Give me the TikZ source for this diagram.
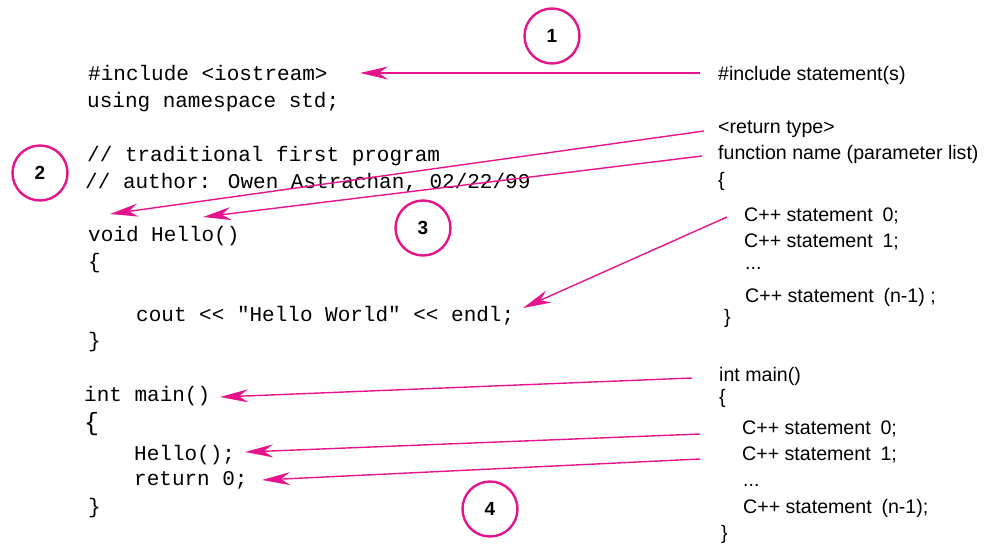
\documentclass[tikz,border=0pt]{standalone}
\usepackage{fontspec}
\setmainfont{Liberation Sans}
\newfontfamily\codefont{Liberation Mono}
\usetikzlibrary{arrows.meta}
\definecolor{mag}{RGB}{230,20,140}
\tikzset{
  code/.style={anchor=base west, inner sep=0pt, font=\codefont\fontsize{21}{21}\selectfont},
  lbl/.style={anchor=base west, inner sep=0pt, font=\fontsize{19.6}{20}\selectfont},
  num/.style={circle, draw=mag, line width=2.4pt, minimum size=55pt, inner sep=0pt, font=\bfseries\fontsize{19}{19}\selectfont},
  arr/.style={draw=mag, line width=1.4pt, -{Stealth[length=28pt,width=13pt,inset=9pt]}}
}
\begin{document}
\begin{tikzpicture}[x=1pt,y=-1pt]
\useasboundingbox (0,0) rectangle (989,544);
% code
\node[code] (c1) at (88,80) {\#include <iostream>};
\node[code] (c2) at (87,107) {using namespace std;};
\node[code] (c3) at (87,161) {// traditional first program};
\node[code] (c4) at (85,188) {// author: Owen Astrachan, 02/22/99};
\node[code] (c5) at (88,241) {void Hello()};
\node[code] (c6) at (88,268) {\{};
\node[code] (c7) at (136,321) {cout << "Hello World" << endl;};
\node[code] (c8) at (88,347) {\}};
\node[code] (c9) at (84,401) {int main()};
\node[code, font=\codefont\fontsize{25}{25}\selectfont] (c10) at (84,430) {\{};
\node[code] (c11) at (134,460) {Hello();};
\node[code] (c12) at (134,485) {return 0;};
\node[code] (c13) at (88,513) {\}};
% labels
\node[lbl] (l1) at (718,80) {\#include statement(s)};
\node[lbl] (l2) at (718,133) {<return type>};
\node[lbl] (l3) at (718,159) {function name (parameter list)};
\node[lbl] (l4) at (718,186) {\{};
\node[lbl] (l5) at (744,221) {C++ statement\enspace 0;};
\node[lbl] (l6) at (744,247) {C++ statement\enspace 1;};
\node[lbl] (l7) at (745,269) {...};
\node[lbl] (l8) at (745,302) {C++ statement\enspace (n-1) ;};
\node[lbl] (l9) at (724,323) {\}};
\node[lbl] (l10) at (719,381) {int main()};
\node[lbl] (l11) at (719,403) {\{};
\node[lbl] (l12) at (742,434) {C++ statement\enspace 0;};
\node[lbl] (l13) at (742,460) {C++ statement\enspace 1;};
\node[lbl] (l14) at (743,486) {...};
\node[lbl] (l15) at (743,513) {C++ statement\enspace (n-1);};
\node[lbl] (l16) at (721,539) {\}};
% numbered circles
\node[num] (n1) at (552,36) {1};
\node[num] (n2) at (40,173) {2};
\node[num] (n3) at (423,228) {3};
\node[num] (n4) at (490,509) {4};
% arrow ends
\coordinate (s1) at (700,73);   \coordinate (t1) at (360,73);
\coordinate (s2) at (704,131);  \coordinate (t2) at (110,214);
\coordinate (s3) at (702,156);  \coordinate (t3) at (203,217);
\coordinate (s4) at (727,217);  \coordinate (t4) at (523,308);
\coordinate (s5) at (692,378);  \coordinate (t5) at (220,397);
\coordinate (s6) at (700,434);  \coordinate (t6) at (245,452);
\coordinate (s7) at (700,459);  \coordinate (t7) at (262,480);
\draw[arr] (s1) -- (t1);
\draw[arr] (s2) -- (t2);
\draw[arr] (s3) -- (t3);
\draw[arr] (s4) -- (t4);
\draw[arr] (s5) -- (t5);
\draw[arr] (s6) -- (t6);
\draw[arr] (s7) -- (t7);
\end{tikzpicture}
\end{document}
